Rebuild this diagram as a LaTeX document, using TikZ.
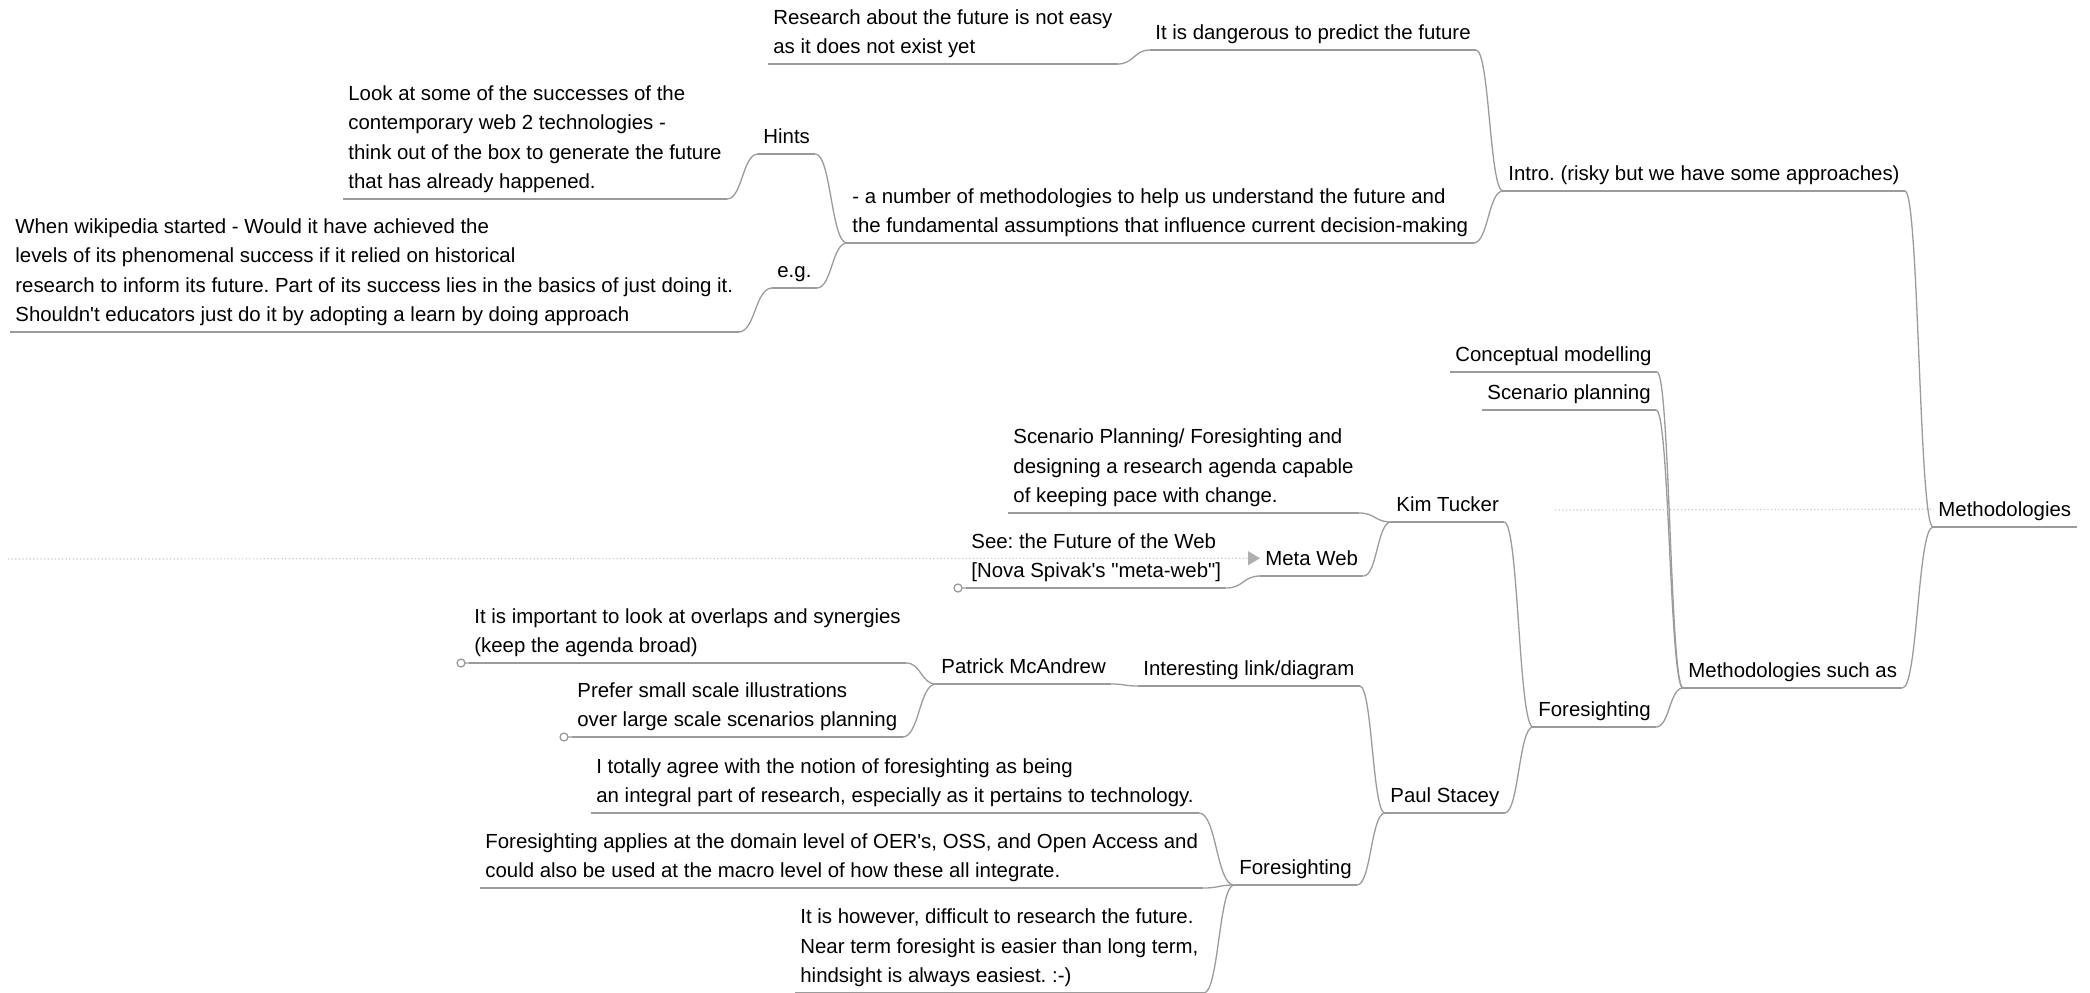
\documentclass[tikz,border=0pt]{standalone}
\usepackage{fontspec}
\newfontfamily\arial{Liberation Sans}
\usetikzlibrary{calc}
\usetikzlibrary{arrows.meta}
\definecolor{gris}{RGB}{155,155,155}
\definecolor{grisclaro}{RGB}{200,200,200}

\begin{document}
\begin{tikzpicture}[x=0.5pt,y=-0.5pt]
\tikzstyle{nodo texto}=[anchor=south west,align=left,inner xsep=2.5pt,inner ysep=5pt,text depth=0pt,font=\arial\fontsize{10.2}{14.75}\selectfont\frenchspacing]
\tikzstyle{linea}=[draw=gris,line width=0.65pt]
\tikzstyle{rama}=[linea,to path={let \p1=(\tikztostart),\p2=(\tikztotarget) in .. controls ({(\x1+\x2)/2},\y1) and ({(\x1+\x2)/2},\y2) .. (\tikztotarget)}]
\tikzstyle{punteado}=[draw=grisclaro,line width=0.6pt,dash pattern=on 0.6pt off 1.2pt]

\useasboundingbox (0,0) rectangle (2090,992);
\clip (0,0) rectangle (2090,992);

\node[nodo texto] (met) at (1933,527) {Methodologies};

% rama de arriba
\node[nodo texto] (intro) at (1503,191) {Intro. (risky but we have some approaches)};
\node[nodo texto] (peligro) at (1150,50) {It is dangerous to predict the future};
\node[nodo texto] (noexiste) at (768,64) {Research about the future is not easy\\as it does not exist yet};
\node[nodo texto] (numero) at (847,243) {- a number of methodologies to help us understand the future and\\the fundamental assumptions that influence current decision-making};
\node[nodo texto] (hints) at (758,154) {Hints};
\node[nodo texto] (mirar) at (343,199) {Look at some of the successes of the\\contemporary web 2 technologies -\\think out of the box to generate the future\\that has already happened.};
\node[nodo texto] (eg) at (772,288) {e.g.};
\node[nodo texto] (wiki) at (10,332) {When wikipedia started - Would it have achieved the\\levels of its phenomenal success if it relied on historical\\research to inform its future. Part of its success lies in the basics of just doing it.\\Shouldn't educators just do it by adopting a learn by doing approach};

% rama de abajo
\node[nodo texto] (talescomo) at (1683,688) {Methodologies such as};
\node[nodo texto] (concep) at (1450,372) {Conceptual modelling};
\node[nodo texto] (escen) at (1482,410) {Scenario planning};
\node[nodo texto] (fore) at (1533,727) {Foresighting};
\node[nodo texto] (kim) at (1391,522) {Kim Tucker};
\node[nodo texto] (agenda) at (1008,513) {Scenario Planning/ Foresighting and\\designing a research agenda capable\\of keeping pace with change.};
\node[nodo texto] (metaweb) at (1260,576) {Meta Web};
\node[nodo texto] (spivak) at (966,588) {See: the Future of the Web\\{[Nova Spivak's "meta-web"]}};
\node[nodo texto] (paul) at (1385,813) {Paul Stacey};
\node[nodo texto] (enlace) at (1138,686) {Interesting link/diagram};
\node[nodo texto] (patrick) at (936,684) {Patrick McAndrew};
\node[nodo texto] (solape) at (469,663) {It is important to look at overlaps and synergies\\(keep the agenda broad)};
\node[nodo texto] (pequena) at (572,737) {Prefer small scale illustrations\\over large scale scenarios planning};
\node[nodo texto] (fore2) at (1234,885) {Foresighting};
\node[nodo texto] (acuerdo) at (591,813) {I totally agree with the notion of foresighting as being\\an integral part of research, especially as it pertains to technology.};
\node[nodo texto] (dominio) at (480,888) {Foresighting applies at the domain level of OER's, OSS, and Open Access and\\could also be used at the macro level of how these all integrate.};
\node[nodo texto] (dificil) at (795,993) {It is however, difficult to research the future.\\Near term foresight is easier than long term,\\hindsight is always easiest. :-)};

\foreach \n in {met,intro,peligro,noexiste,numero,hints,mirar,eg,wiki,talescomo,concep,escen,fore,kim,agenda,metaweb,spivak,paul,enlace,patrick,solape,pequena,fore2,acuerdo,dominio,dificil}
  \draw[linea] (\n.south west) -- (\n.south east);
\foreach \n in {spivak,solape,pequena}
  \draw[linea,fill=white] (\n.south west) -- ++(-2pt,0) ++(-2pt,0) circle (2pt);

\draw[rama] (met.south west) to (intro.south east);
\draw[rama] (met.south west) to (talescomo.south east);
\draw[rama] (intro.south west) to (peligro.south east);
\draw[rama] (intro.south west) to (numero.south east);
\draw[rama] (peligro.south west) to (noexiste.south east);
\draw[rama] (numero.south west) to (hints.south east);
\draw[rama] (numero.south west) to (eg.south east);
\draw[rama] (hints.south west) to (mirar.south east);
\draw[rama] (eg.south west) to (wiki.south east);
\draw[rama] (talescomo.south west) to (concep.south east);
\draw[rama] (talescomo.south west) to (escen.south east);
\draw[rama] (talescomo.south west) to (fore.south east);
\draw[rama] (fore.south west) to (kim.south east);
\draw[rama] (fore.south west) to (paul.south east);
\draw[rama] (kim.south west) to (agenda.south east);
\draw[rama] (kim.south west) to (metaweb.south east);
\draw[rama] (metaweb.south west) to (spivak.south east);
\draw[rama] (paul.south west) to (enlace.south east);
\draw[rama] (paul.south west) to (fore2.south east);
\draw[rama] (enlace.south west) to (patrick.south east);
\draw[rama] (patrick.south west) to (solape.south east);
\draw[rama] (patrick.south west) to (pequena.south east);
\draw[rama] (fore2.south west) to (acuerdo.south east);
\draw[rama] (fore2.south west) to (dominio.south east);
\draw[rama] (fore2.south west) to (dificil.south east);

% enlace punteado
\coordinate (ini1) at (8,559);
\coordinate (ini2) at (1555,510);
\draw[punteado,-{Triangle[length=6pt,width=7pt,fill=gris!80,color=gris!80]}] (ini1) -- (metaweb.west);
\draw[punteado] (ini2) -- (met.west);
\end{tikzpicture}
\end{document}
